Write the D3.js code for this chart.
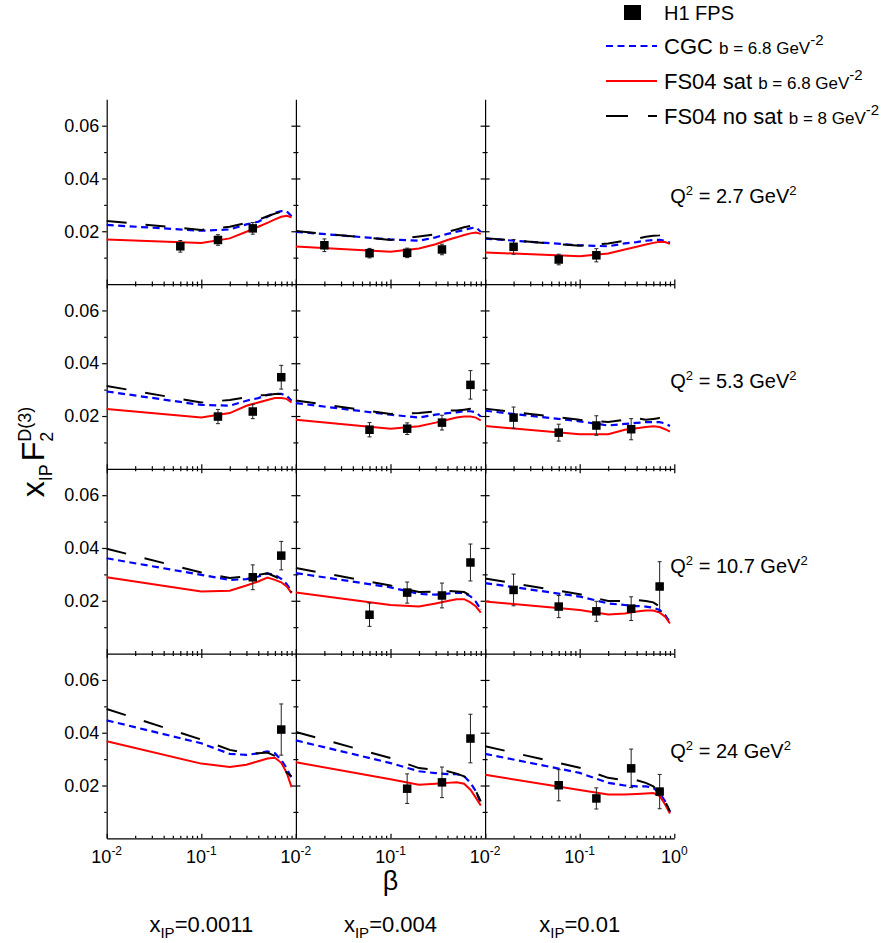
<!DOCTYPE html>
<html>
<head>
<meta charset="utf-8">
<script src="https://cdn.jsdelivr.net/npm/d3@7"></script>
<style>
body { margin: 0; background: #fff; }
svg { display: block; font-family: 'Liberation Sans', Arial, sans-serif; }
.axis path, .axis line { stroke: #000; stroke-width: 1.2; }
.axis text { font-size: 18px; fill: #000; font-family: 'Liberation Sans', Arial, sans-serif; }
</style>
</head>
<body>
<div class="chart"></div>
<script>
const WIDTH = 895;
const HEIGHT = 943;
const LEFT = 106.7;
const TOP = 99.3;
const COL_W = 189.2;
const ROW_H = 184.75;

// beta grid where the model curves were evaluated
const BETA = [0.01, 0.1, 0.2, 0.3, 0.4, 0.5, 0.6, 0.7, 0.8, 0.9];
const XPOM = ['0.0011', '0.004', '0.01'];
const Q2 = ['2.7', '5.3', '10.7', '24'];

const Y_MAJOR = [0.02, 0.04, 0.06];
const Y_MINOR = [0.01, 0.03, 0.05];
const X_MAJOR = [0.01, 0.1, 1];
const X_MINOR = [0.02, 0.03, 0.04, 0.05, 0.06, 0.07, 0.08, 0.09, 0.2, 0.3, 0.4, 0.5, 0.6, 0.7, 0.8, 0.9];

// CGC b = 6.8 (rows = Q2, cols = xIP)
const cgc = [
	[
		[0.0224, 0.0202, 0.0207, 0.0226, 0.0236, 0.0255, 0.0270, 0.0276, 0.0276, 0.0257],
		[0.0198, 0.0169, 0.0164, 0.0177, 0.0190, 0.0198, 0.0205, 0.0211, 0.0215, 0.0198],
		[0.0172, 0.0147, 0.0143, 0.0154, 0.0159, 0.0164, 0.0167, 0.0167, 0.0164, 0.0156]
	],
	[
		[0.0293, 0.0242, 0.0239, 0.0258, 0.0268, 0.0280, 0.0284, 0.0284, 0.0277, 0.0258],
		[0.0249, 0.0205, 0.0194, 0.0205, 0.0211, 0.0214, 0.0218, 0.0218, 0.0214, 0.0198],
		[0.0220, 0.0180, 0.0164, 0.0170, 0.0174, 0.0177, 0.0177, 0.0177, 0.0172, 0.0162]
	],
	[
		[0.0361, 0.0298, 0.0279, 0.0282, 0.0292, 0.0304, 0.0298, 0.0283, 0.0263, 0.0235],
		[0.0305, 0.0251, 0.0226, 0.0223, 0.0227, 0.0230, 0.0230, 0.0217, 0.0196, 0.0167],
		[0.0267, 0.0216, 0.0190, 0.0184, 0.0180, 0.0178, 0.0174, 0.0165, 0.0146, 0.0118]
	],
	[
		[0.0447, 0.0360, 0.0320, 0.0316, 0.0322, 0.0329, 0.0322, 0.0297, 0.0265, 0.0227],
		[0.0371, 0.0285, 0.0254, 0.0247, 0.0243, 0.0243, 0.0235, 0.0210, 0.0178, 0.0134],
		[0.0320, 0.0248, 0.0210, 0.0200, 0.0197, 0.0197, 0.0191, 0.0172, 0.0140, 0.0099]
	]
];

// FS04 sat b = 6.8
const fsSat = [
	[
		[0.0169, 0.0156, 0.0173, 0.0198, 0.0217, 0.0232, 0.0245, 0.0255, 0.0259, 0.0253],
		[0.0142, 0.0122, 0.0135, 0.0151, 0.0167, 0.0177, 0.0186, 0.0192, 0.0195, 0.0190],
		[0.0120, 0.0105, 0.0116, 0.0131, 0.0141, 0.0150, 0.0156, 0.0160, 0.0159, 0.0152]
	],
	[
		[0.0227, 0.0194, 0.0211, 0.0239, 0.0251, 0.0261, 0.0268, 0.0268, 0.0265, 0.0251],
		[0.0186, 0.0152, 0.0161, 0.0175, 0.0186, 0.0194, 0.0198, 0.0198, 0.0194, 0.0183],
		[0.0162, 0.0131, 0.0131, 0.0148, 0.0154, 0.0158, 0.0161, 0.0158, 0.0150, 0.0141]
	],
	[
		[0.0289, 0.0235, 0.0238, 0.0258, 0.0273, 0.0288, 0.0279, 0.0270, 0.0254, 0.0229],
		[0.0231, 0.0184, 0.0178, 0.0190, 0.0199, 0.0206, 0.0206, 0.0194, 0.0178, 0.0155],
		[0.0197, 0.0165, 0.0148, 0.0152, 0.0159, 0.0163, 0.0163, 0.0155, 0.0140, 0.0114]
	],
	[
		[0.0368, 0.0283, 0.0270, 0.0279, 0.0292, 0.0302, 0.0305, 0.0286, 0.0248, 0.0194],
		[0.0288, 0.0224, 0.0203, 0.0207, 0.0210, 0.0212, 0.0207, 0.0184, 0.0153, 0.0124],
		[0.0241, 0.0183, 0.0166, 0.0166, 0.0168, 0.0170, 0.0172, 0.0160, 0.0128, 0.0094]
	]
];

// FS04 no sat b = 8
const fsNoSat = [
	[
		[0.0239, 0.0205, 0.0217, 0.0232, 0.0243, 0.0257, 0.0267, 0.0274, 0.0278, 0.0249],
		[0.0201, 0.0167, 0.0180, 0.0189, 0.0198, 0.0207, 0.0215, 0.0220, 0.0220, 0.0198],
		[0.0174, 0.0145, 0.0154, 0.0164, 0.0172, 0.0179, 0.0183, 0.0185, 0.0189, 0.0167]
	],
	[
		[0.0314, 0.0251, 0.0261, 0.0271, 0.0278, 0.0280, 0.0283, 0.0283, 0.0274, 0.0255],
		[0.0259, 0.0208, 0.0211, 0.0218, 0.0221, 0.0221, 0.0224, 0.0227, 0.0218, 0.0198],
		[0.0228, 0.0186, 0.0177, 0.0186, 0.0192, 0.0186, 0.0189, 0.0192, 0.0186, 0.0167]
	],
	[
		[0.0397, 0.0307, 0.0286, 0.0292, 0.0298, 0.0304, 0.0292, 0.0279, 0.0261, 0.0232],
		[0.0324, 0.0258, 0.0233, 0.0235, 0.0238, 0.0235, 0.0233, 0.0220, 0.0198, 0.0167],
		[0.0284, 0.0225, 0.0199, 0.0199, 0.0203, 0.0199, 0.0194, 0.0178, 0.0159, 0.0133]
	],
	[
		[0.0490, 0.0374, 0.0335, 0.0322, 0.0322, 0.0325, 0.0312, 0.0286, 0.0248, 0.0235],
		[0.0403, 0.0304, 0.0266, 0.0260, 0.0254, 0.0245, 0.0235, 0.0216, 0.0178, 0.0140],
		[0.0349, 0.0267, 0.0229, 0.0220, 0.0220, 0.0210, 0.0197, 0.0172, 0.0140, 0.0102]
	]
];

// H1 FPS points: [beta, value, error]
const h1 = [
	[
		[[0.06, 0.0143, 0.0022], [0.15, 0.0167, 0.0020], [0.35, 0.0211, 0.0022]],
		[[0.02, 0.0147, 0.0024], [0.06, 0.0117, 0.0018], [0.15, 0.0118, 0.0018], [0.35, 0.0131, 0.0020]],
		[[0.02, 0.0141, 0.0028], [0.06, 0.0093, 0.0020], [0.15, 0.0109, 0.0025]]
	],
	[
		[[0.15, 0.0198, 0.0027], [0.35, 0.0217, 0.0027], [0.7, 0.0347, 0.0045]],
		[[0.06, 0.0148, 0.0027], [0.15, 0.0152, 0.0022], [0.35, 0.0175, 0.0028], [0.7, 0.0318, 0.0054]],
		[[0.02, 0.0194, 0.0040], [0.06, 0.0137, 0.0032], [0.15, 0.0164, 0.0037], [0.35, 0.0150, 0.0040]]
	],
	[
		[[0.35, 0.0289, 0.0047], [0.7, 0.0371, 0.0054]],
		[[0.06, 0.0147, 0.0044], [0.15, 0.0231, 0.0040], [0.35, 0.0220, 0.0047], [0.7, 0.0345, 0.0070]],
		[[0.02, 0.0241, 0.0060], [0.06, 0.0178, 0.0042], [0.15, 0.0160, 0.0038], [0.35, 0.0170, 0.0045], [0.7, 0.0254, 0.0094]]
	],
	[
		[[0.7, 0.0412, 0.0097]],
		[[0.15, 0.0188, 0.0056], [0.35, 0.0212, 0.0058], [0.7, 0.0378, 0.0092]],
		[[0.06, 0.0201, 0.0059], [0.15, 0.0151, 0.0040], [0.35, 0.0265, 0.0073], [0.7, 0.0177, 0.0065]]
	]
];

const STYLE = {
	cgc: { color: '#0000ff', width: 2.2, dash: '7,4.5' },
	sat: { color: '#ff0000', width: 2, dash: null },
	noSat: { color: '#000000', width: 2, dash: '20,19' }
};

const svg = d3
	.select('.chart')
	.append('svg')
	.attr('width', WIDTH)
	.attr('height', HEIGHT);

function addSup(text, base, sup, size, dy) {
	text.append('tspan').text(base);
	text
		.append('tspan')
		.attr('dy', -dy)
		.attr('font-size', size)
		.text(sup);
}

function drawAxes(g, x, y, r, c, x0, y0) {
	const bottom = y0 + ROW_H;
	const right = x0 + COL_W;

	// bottom axis, ticks pointing up
	const bx = g.append('g').attr('class', 'axis').attr('transform', `translate(0,${bottom})`);
	bx.call(d3.axisBottom(x).tickValues(X_MAJOR).tickSizeInner(-4.5).tickSizeOuter(0).tickFormat(''));
	const bxm = g.append('g').attr('class', 'axis').attr('transform', `translate(0,${bottom})`);
	bxm.call(d3.axisBottom(x).tickValues(X_MINOR).tickSizeInner(-2.5).tickSizeOuter(0).tickFormat(''));
	bxm.select('.domain').remove();

	if (r > 0) {
		const tx = g.append('g').attr('class', 'axis').attr('transform', `translate(0,${y0})`);
		tx.call(d3.axisTop(x).tickValues(X_MAJOR).tickSizeInner(-4.5).tickSizeOuter(0).tickFormat(''));
		tx.select('.domain').remove();
		const txm = g.append('g').attr('class', 'axis').attr('transform', `translate(0,${y0})`);
		txm.call(d3.axisTop(x).tickValues(X_MINOR).tickSizeInner(-2.5).tickSizeOuter(0).tickFormat(''));
		txm.select('.domain').remove();
	}

	// left axis
	const ly = g.append('g').attr('class', 'axis').attr('transform', `translate(${x0},0)`);
	const lym = g.append('g').attr('class', 'axis').attr('transform', `translate(${x0},0)`);
	if (c === 0) {
		ly.call(d3.axisLeft(y).tickValues(Y_MAJOR).tickSizeInner(4.5).tickSizeOuter(0).tickPadding(3).tickFormat(d3.format('.2f')));
		lym.call(d3.axisLeft(y).tickValues(Y_MINOR).tickSizeInner(2.5).tickSizeOuter(0).tickFormat(''));
	} else {
		ly.call(d3.axisLeft(y).tickValues(Y_MAJOR).tickSizeInner(-4.5).tickSizeOuter(0).tickFormat(''));
		lym.call(d3.axisLeft(y).tickValues(Y_MINOR).tickSizeInner(-2.5).tickSizeOuter(0).tickFormat(''));
	}
	lym.select('.domain').remove();

	// right-side ticks, shared boundary with the next column
	if (c < 2) {
		const ry = g.append('g').attr('class', 'axis').attr('transform', `translate(${right},0)`);
		ry.call(d3.axisRight(y).tickValues(Y_MAJOR).tickSizeInner(-4.5).tickSizeOuter(0).tickFormat(''));
		ry.select('.domain').remove();
		const rym = g.append('g').attr('class', 'axis').attr('transform', `translate(${right},0)`);
		rym.call(d3.axisRight(y).tickValues(Y_MINOR).tickSizeInner(-2.5).tickSizeOuter(0).tickFormat(''));
		rym.select('.domain').remove();
	}

	// beta tick labels on the bottom row; 10^0 only after the last column
	if (r === 3) {
		const labels = c < 2 ? X_MAJOR.slice(0, 2) : X_MAJOR;
		g.selectAll('.xlab')
			.data(labels)
			.enter()
			.append('text')
			.attr('class', 'xlab')
			.attr('x', d => x(d))
			.attr('y', bottom + 25)
			.attr('text-anchor', 'middle')
			.attr('font-size', 18)
			.each(function(d) {
				addSup(d3.select(this), '10', String(Math.round(Math.log10(d))), 12, 8);
			});
	}
}

function drawPanel(r, c) {
	const x0 = LEFT + c * COL_W;
	const y0 = TOP + r * ROW_H;
	const x = d3.scaleLog().domain([0.01, 1]).range([x0, x0 + COL_W]);
	const y = d3.scaleLinear().domain([0, 0.07]).range([y0 + ROW_H, y0]);

	const g = svg.append('g').attr('class', 'panel');
	drawAxes(g, x, y, r, c, x0, y0);

	const line = d3
		.line()
		.x((d, i) => x(BETA[i]))
		.y(d => y(d));

	const curves = [
		[cgc[r][c], STYLE.cgc],
		[fsSat[r][c], STYLE.sat],
		[fsNoSat[r][c], STYLE.noSat]
	];
	curves.forEach(([values, s]) => {
		g.append('path')
			.datum(values)
			.attr('d', line)
			.attr('fill', 'none')
			.attr('stroke', s.color)
			.attr('stroke-width', s.width)
			.attr('stroke-dasharray', s.dash);
	});

	const pts = g.selectAll('.pt').data(h1[r][c]).enter().append('g').attr('class', 'pt');
	pts.append('line')
		.attr('x1', d => x(d[0]))
		.attr('x2', d => x(d[0]))
		.attr('y1', d => y(d[1] - d[2]))
		.attr('y2', d => y(d[1] + d[2]))
		.attr('stroke', '#222')
		.attr('stroke-width', 1);
	[-1, 1].forEach(sign => {
		pts.append('line')
			.attr('x1', d => x(d[0]) - 2)
			.attr('x2', d => x(d[0]) + 2)
			.attr('y1', d => y(d[1] + sign * d[2]))
			.attr('y2', d => y(d[1] + sign * d[2]))
			.attr('stroke', '#222')
			.attr('stroke-width', 1);
	});
	pts.append('rect')
		.attr('x', d => x(d[0]) - 4.25)
		.attr('y', d => y(d[1]) - 4.25)
		.attr('width', 8.5)
		.attr('height', 8.5)
		.attr('fill', '#000');

	// Q2 label right of the last column
	if (c === 2) {
		const t = svg.append('text')
			.attr('x', x0 + COL_W - 4)
			.attr('y', y0 + 104)
			.attr('font-size', 20);
		t.append('tspan').text('Q');
		t.append('tspan').attr('dy', -8).attr('font-size', 13).text('2');
		t.append('tspan').attr('dy', 8).text(` = ${Q2[r]} GeV`);
		t.append('tspan').attr('dy', -8).attr('font-size', 13).text('2');
	}
}

for (let r = 0; r < 4; r++) {
	for (let c = 0; c < 3; c++) drawPanel(r, c);
}

// x_IP labels under each column
XPOM.forEach((v, c) => {
	const t = svg.append('text')
		.attr('x', LEFT + (c + 0.5) * COL_W)
		.attr('y', 932)
		.attr('text-anchor', 'middle')
		.attr('font-size', 22);
	t.append('tspan').text('x');
	t.append('tspan').attr('dy', 6).attr('font-size', 15).text('IP');
	t.append('tspan').attr('dy', -6).text(`=${v}`);
});

// beta axis title
svg.append('text')
	.attr('x', LEFT + 1.5 * COL_W)
	.attr('y', 890)
	.attr('text-anchor', 'middle')
	.attr('font-size', 27)
	.text('β');

// y axis title
const yt = svg.append('text')
	.attr('transform', 'translate(44,452) rotate(-90)')
	.attr('text-anchor', 'middle')
	.attr('font-size', 32);
yt.append('tspan').text('x');
yt.append('tspan').attr('dy', 8).attr('font-size', 18).text('IP');
yt.append('tspan').attr('dy', -8).attr('dx', 3).text('F');
yt.append('tspan').attr('dy', 9).attr('font-size', 18).text('2');
yt.append('tspan').attr('dy', -22).attr('dx', -10).attr('font-size', 18).text('D(3)');

// legend
const LEG_X = 606;
const LEG_LEN = 51;
const LEG_TEXT_X = 664;
const legendRows = [
	{ key: 'cgc', y: 46, name: 'CGC', b: 'b = 6.8 GeV' },
	{ key: 'sat', y: 81, name: 'FS04 sat', b: 'b = 6.8 GeV' },
	{ key: 'noSat', y: 116, name: 'FS04 no sat', b: 'b = 8 GeV' }
];

const lg = svg.append('g').attr('class', 'legend');
lg.append('rect')
	.attr('x', 624)
	.attr('y', 5)
	.attr('width', 17)
	.attr('height', 15)
	.attr('fill', '#000');
lg.append('text')
	.attr('x', LEG_TEXT_X)
	.attr('y', 19.5)
	.attr('font-size', 20)
	.text('H1 FPS');

legendRows.forEach(d => {
	const s = STYLE[d.key];
	lg.append('line')
		.attr('x1', LEG_X)
		.attr('x2', LEG_X + LEG_LEN)
		.attr('y1', d.y)
		.attr('y2', d.y)
		.attr('stroke', s.color)
		.attr('stroke-width', s.width)
		.attr('stroke-dasharray', d.key === 'noSat' ? '22,20' : s.dash);
	const t = lg.append('text')
		.attr('x', LEG_TEXT_X)
		.attr('y', d.y + 7.5)
		.attr('font-size', 22);
	t.append('tspan').text(d.name + ' ');
	t.append('tspan').attr('font-size', 17).text(d.b);
	t.append('tspan').attr('dy', -9).attr('font-size', 15).text('-2');
});
</script>
</body>
</html>
